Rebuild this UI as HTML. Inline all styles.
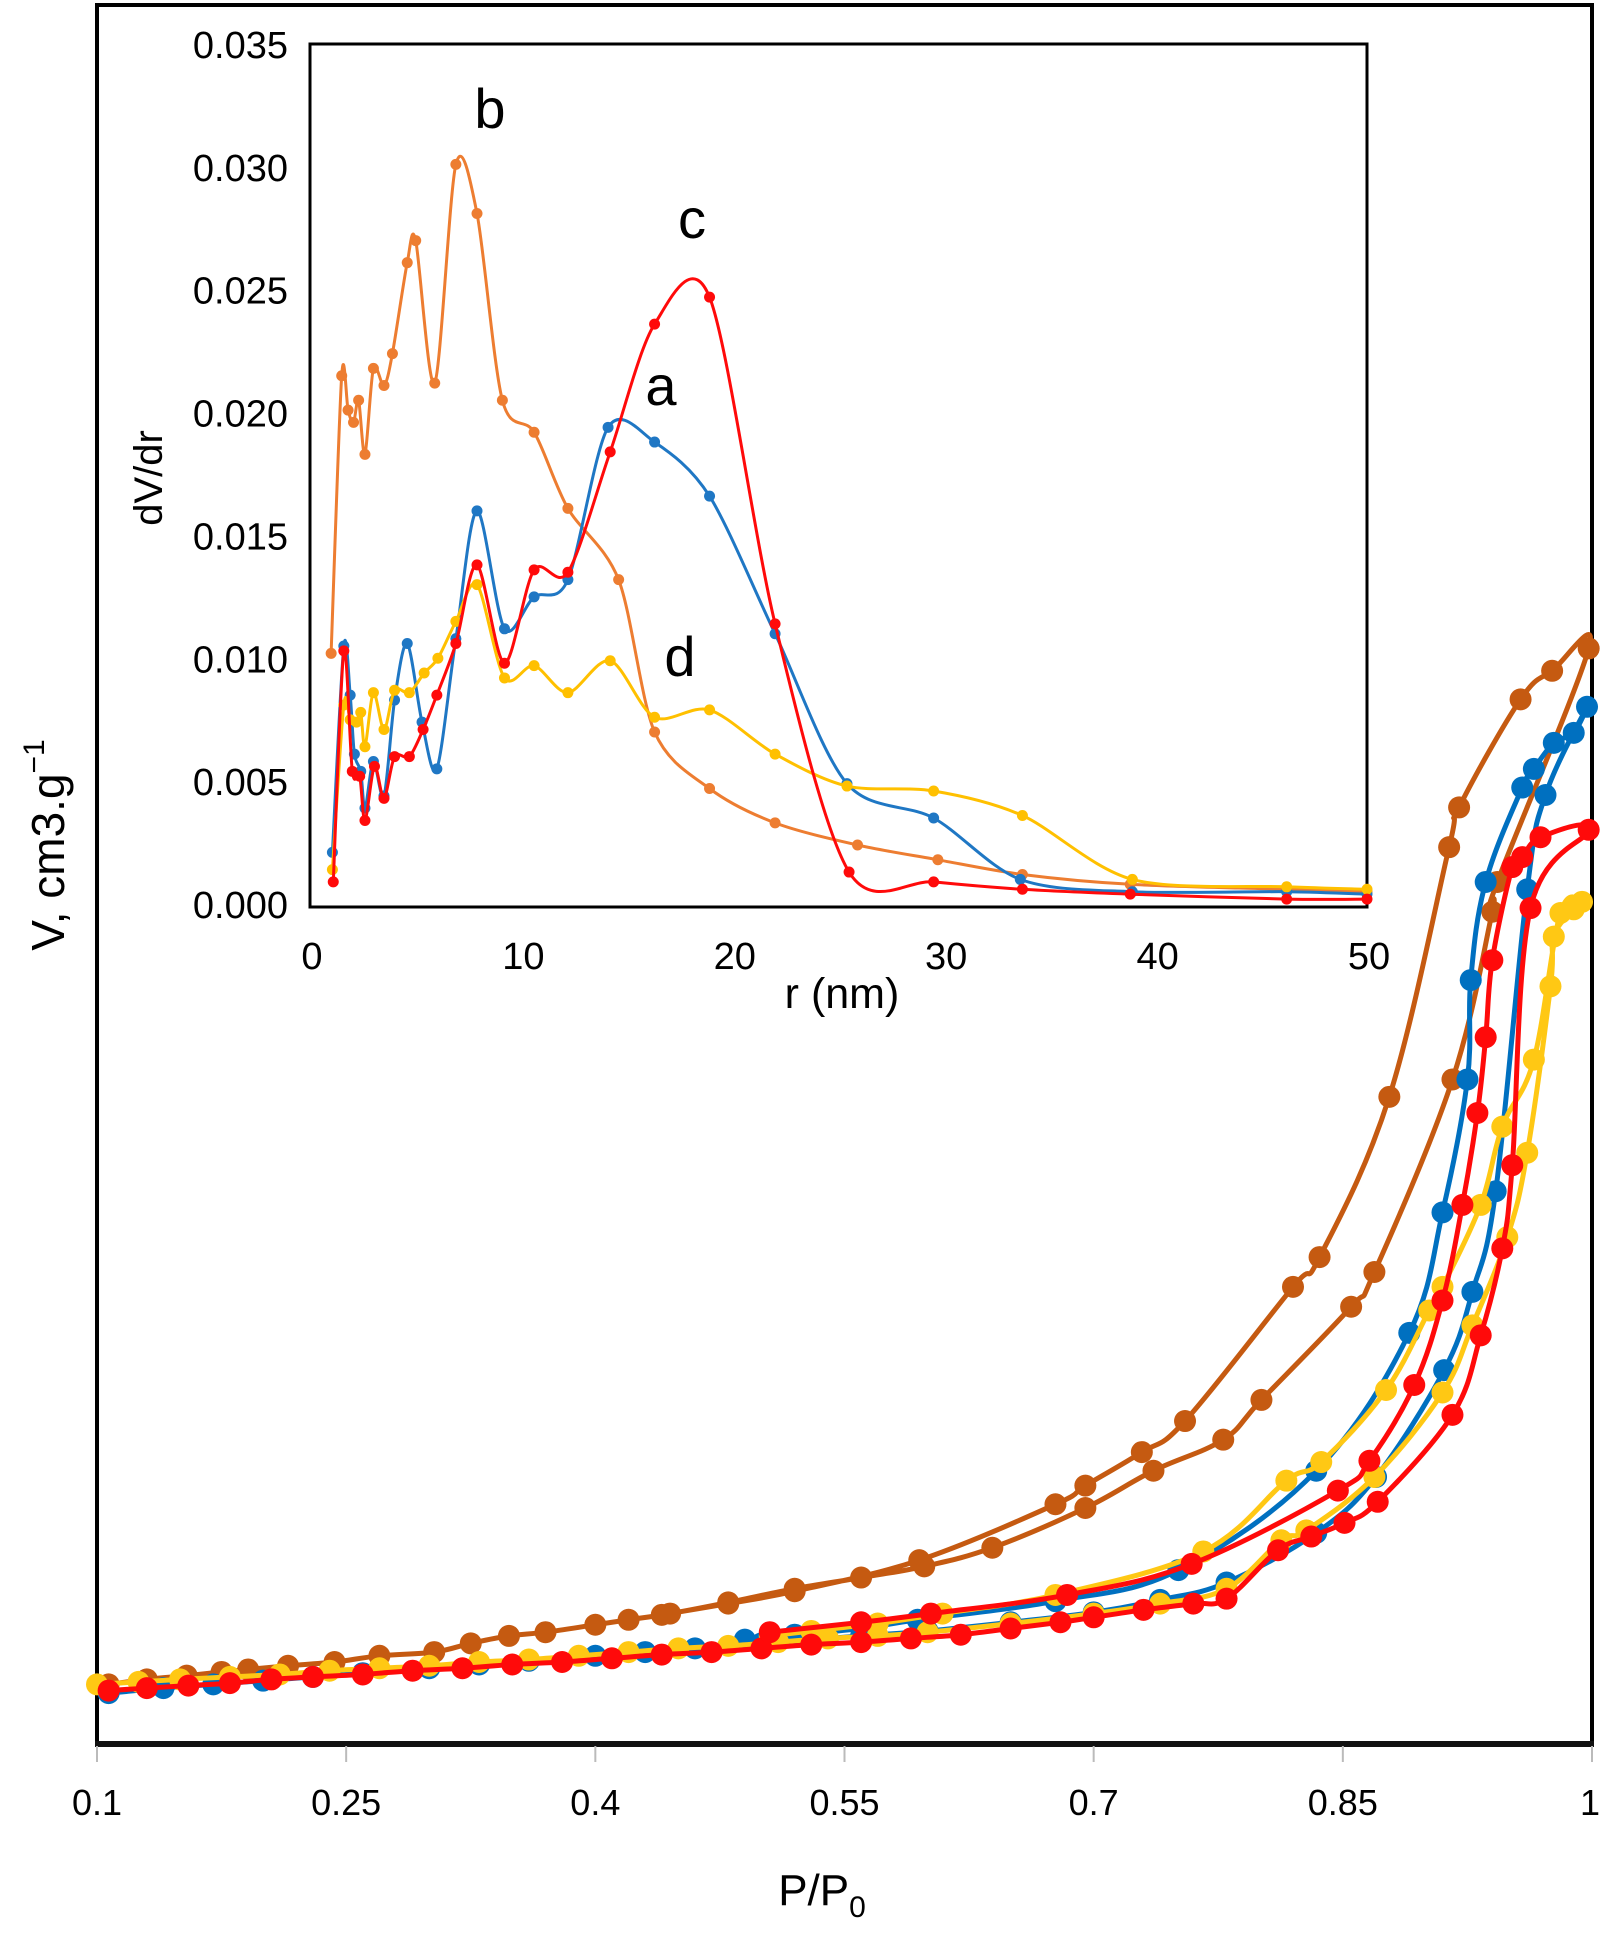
<!DOCTYPE html>
<html><head><meta charset="utf-8"><style>
html,body{margin:0;padding:0;background:#fff;}
svg{display:block;font-family:"Liberation Sans",Arial,sans-serif;}
</style></head><body>
<svg id="chart" width="1604" height="1949" viewBox="0 0 1604 1949" xmlns="http://www.w3.org/2000/svg">
<rect x="0" y="0" width="1604" height="1949" fill="#fff"/>
<g id="main"></g>
<g id="inset"></g>
</svg>
<script>
// ---------- main chart data (P/P0, V arbitrary units) ----------
const xTicks = [0.1, 0.25, 0.4, 0.55, 0.7, 0.85, 1];
const xTickLabels = ["0.1", "0.25", "0.4", "0.55", "0.7", "0.85", "1"];
const brownP = [0.107,0.13,0.154,0.175,0.191,0.215,0.243,0.27,0.303,0.325,0.348,0.37,0.400,0.42,0.445,0.48,0.520,0.56,0.598,0.639,0.695,0.736,0.778,0.801,0.855,0.869,0.916,0.940,0.943,0.998,0.976,0.957,0.920,0.914,0.878,0.836,0.820,0.755,0.729,0.695,0.677,0.595,0.520,0.48,0.44];
const brownV = [4.8,5.2,5.5,5.8,6.0,6.3,6.6,7.1,7.4,8.1,8.7,9.0,9.6,10.0,10.5,11.4,12.5,13.4,14.3,15.8,19.0,22.0,24.5,27.7,35.2,38.0,53.5,67.0,69.4,88.2,86.4,84.1,75.4,72.2,52.1,39.2,36.8,26.0,23.5,20.8,19.3,14.8,12.3,11.3,10.4];
const blueP = [0.107,0.14,0.17,0.2,0.23,0.26,0.3,0.33,0.36,0.4,0.43,0.46,0.5,0.53,0.56,0.6,0.65,0.7,0.74,0.78,0.834,0.87,0.911,0.928,0.942,0.961,0.972,0.997,0.989,0.977,0.965,0.958,0.936,0.927,0.925,0.910,0.890,0.834,0.751,0.677,0.594,0.56,0.52,0.49];
const blueV = [4.1,4.5,4.8,5.1,5.4,5.7,6.1,6.4,6.7,7.1,7.4,7.7,8.1,8.4,8.7,9.1,9.8,10.6,11.6,13.0,17.0,21.5,30.1,36.4,44.5,68.8,76.4,83.5,81.4,80.6,78.5,77.0,69.4,61.5,53.5,42.8,33.1,22.0,14.0,11.5,10.0,9.3,8.8,8.4];
const yellowP = [0.10,0.125,0.15,0.18,0.21,0.24,0.27,0.3,0.33,0.36,0.39,0.42,0.45,0.48,0.51,0.54,0.57,0.6,0.65,0.7,0.74,0.78,0.813,0.828,0.869,0.910,0.928,0.949,0.961,0.975,0.977,0.989,0.994,0.981,0.965,0.946,0.933,0.910,0.902,0.876,0.837,0.816,0.766,0.677,0.609,0.57,0.53,0.505];
const yellowV = [4.8,5.0,5.2,5.4,5.6,5.9,6.1,6.3,6.6,6.8,7.1,7.4,7.7,7.9,8.2,8.5,8.7,9.0,9.7,10.5,11.3,12.5,16.4,17.2,21.5,28.3,33.7,40.8,47.6,61.0,65.0,67.2,67.8,66.9,55.1,49.7,43.4,36.8,34.9,28.5,22.7,21.2,15.5,12.0,10.5,9.7,9.1,8.7];
const redP = [0.107,0.13,0.155,0.18,0.205,0.23,0.26,0.29,0.32,0.35,0.38,0.41,0.44,0.47,0.50,0.53,0.56,0.59,0.62,0.65,0.68,0.70,0.73,0.76,0.78,0.811,0.831,0.851,0.871,0.916,0.933,0.946,0.952,0.963,0.998,0.969,0.958,0.952,0.940,0.936,0.931,0.922,0.910,0.893,0.866,0.847,0.759,0.684,0.602,0.56,0.505];
const redV = [4.3,4.5,4.7,4.9,5.2,5.4,5.6,5.9,6.1,6.4,6.6,6.9,7.2,7.4,7.7,8.0,8.2,8.5,8.8,9.3,9.8,10.2,10.8,11.3,11.7,15.6,16.7,17.8,19.5,26.5,32.9,39.9,46.6,67.3,73.6,73.0,71.4,70.6,63.1,56.9,50.8,43.4,35.7,28.9,22.8,20.4,14.5,12.0,10.5,9.8,9.0];

// ---------- inset data (r nm, dV/dr) ----------
const rTicks = [0,10,20,30,40,50];
const dTicks = [0,0.005,0.010,0.015,0.020,0.025,0.030,0.035];
const dTickLabels = ["0.000","0.005","0.010","0.015","0.020","0.025","0.030","0.035"];
const bR = [1.0,1.5,1.8,2.06,2.3,2.6,3.0,3.5,3.9,4.6,5.0,5.9,6.9,7.9,9.1,10.6,12.2,14.6,16.3,18.9,22.0,25.9,29.7,33.7,38.8,46.2,50];
const bD = [.0102,.0215,.0201,.0196,.0205,.0183,.0218,.0211,.0224,.0261,.0270,.0212,.0301,.0281,.0205,.0192,.0161,.0132,.0070,.0047,.0033,.0024,.0018,.0012,.0008,.0006,.0005];
const aR = [1.06,1.6,1.9,2.1,2.4,2.6,3.0,3.5,4.0,4.6,5.3,6.0,6.9,7.9,9.2,10.6,12.2,14.1,16.3,18.9,22.0,25.4,29.5,33.6,38.9,46.2,50];
const aD = [.0021,.0105,.0085,.0061,.0054,.0039,.0058,.0044,.0083,.0106,.0074,.0055,.0108,.0160,.0112,.0125,.0132,.0194,.0188,.0166,.0110,.0049,.0035,.0010,.0005,.0005,.0004];
const cR = [1.1,1.6,2.0,2.35,2.6,3.05,3.5,4.0,4.7,5.35,6.0,6.9,7.9,9.2,10.6,12.2,14.2,16.3,18.9,22.0,25.5,29.5,33.7,38.8,46.2,50];
const cD = [.0009,.0103,.0054,.0052,.0034,.0056,.0043,.0060,.0060,.0071,.0085,.0106,.0138,.0098,.0136,.0135,.0184,.0236,.0247,.0114,.0013,.0009,.0006,.0004,.0002,.0002];
const dR = [1.06,1.6,1.9,2.2,2.4,2.6,3.0,3.5,4.0,4.7,5.4,6.05,6.9,7.9,9.2,10.6,12.2,14.2,16.3,18.9,22.0,25.4,29.5,33.7,38.9,46.2,50];
const dD = [.0014,.0081,.0075,.0074,.0078,.0064,.0086,.0071,.0087,.0086,.0094,.0100,.0115,.0130,.0092,.0097,.0086,.0099,.0076,.0079,.0061,.0048,.0046,.0036,.0010,.0007,.0006];

const NS = "http://www.w3.org/2000/svg";
function mk(parent, tag, attrs){const e=document.createElementNS(NS,tag);for(const k in attrs)e.setAttribute(k,attrs[k]);parent.appendChild(e);return e;}
function smooth(pts,t){
  if(pts.length<2)return "";
  let d="M"+pts[0][0].toFixed(1)+","+pts[0][1].toFixed(1);
  for(let i=0;i<pts.length-1;i++){
    const p0=pts[i-1]||pts[i],p1=pts[i],p2=pts[i+1],p3=pts[i+2]||p2;
    const c1=[p1[0]+(p2[0]-p0[0])*t,p1[1]+(p2[1]-p0[1])*t];
    const c2=[p2[0]-(p3[0]-p1[0])*t,p2[1]-(p3[1]-p1[1])*t];
    d+=" C"+c1[0].toFixed(1)+","+c1[1].toFixed(1)+" "+c2[0].toFixed(1)+","+c2[1].toFixed(1)+" "+p2[0].toFixed(1)+","+p2[1].toFixed(1);
  }
  return d;
}

// ---------- main ----------
const main=document.getElementById('main');
const MX0=97,MX1=1592,MY0=1744,MY1=5;
const px=p=>MX0+(p-0.1)/0.9*(MX1-MX0);
const py=v=>MY0-v/140*(MY0-MY1);
let e;
e=mk(main,'rect',{x:97,y:5,width:1495,height:1739,fill:'none',stroke:'#000','stroke-width':4});


e=mk(main,'line',{x1:95,y1:1744,x2:1594,y2:1744,stroke:'#111','stroke-width':6});


xTicks.forEach((t,i)=>{
  const x=px(t);
  const tk=mk(main,'line',{x1:x,y1:1746,x2:x,y2:1762,stroke:'#bbb','stroke-width':2});
  
  
  const lb=mk(main,'text',{x:i===6?x-2:x,y:1815,'font-size':36,'text-anchor':'middle',fill:'#000'});
  lb.textContent=xTickLabels[i];
  
  
});
e=mk(main,'text',{x:822,y:1905,'font-size':44,'text-anchor':'middle',fill:'#000'});
e.innerHTML='P/P<tspan font-size="30" dy="12">0</tspan>';


e=mk(main,'text',{x:0,y:0,'font-size':46,'text-anchor':'middle',fill:'#000',transform:'translate(64,845) rotate(-90)'});
e.innerHTML='V, cm3.g<tspan font-size="30" dy="-20">−1</tspan>';



const mainSeries=[[brownP,brownV,'#C55A11','series-b-isotherm'],[blueP,blueV,'#0070C0','series-a-isotherm'],[yellowP,yellowV,'#FFC814','series-d-isotherm'],[redP,redV,'#FF0A0A','series-c-isotherm']];
mainSeries.forEach(s=>{
  const g=mk(main,'g',{});
  
  
  const pts=s[0].map((p,i)=>[px(p),py(s[1][i])]);
  const path=mk(g,'path',{d:smooth(pts,0.18),fill:'none',stroke:s[2],'stroke-width':5,'stroke-linejoin':'round'});
  
  
  pts.forEach(p=>{
    const c=mk(g,'circle',{cx:p[0],cy:p[1],r:11,fill:s[2]});
    
    
  });
});

// ---------- inset ----------
const ins=document.getElementById('inset');
const IX0=310,IX1=1367,IY0=904,IY1=44;
const ix=r=>IX0+r/50*(IX1-IX0);
const iy=d=>IY0-d/0.035*(IY0-IY1);
e=mk(ins,'rect',{x:310,y:44,width:1057,height:863,fill:'#fff',stroke:'#000','stroke-width':3});


dTicks.forEach((t,i)=>{
  const lb=mk(ins,'text',{x:288,y:iy(t)+14,'font-size':38,'text-anchor':'end',fill:'#000'});
  lb.textContent=dTickLabels[i];
  
  
});
rTicks.forEach(t=>{
  const lb=mk(ins,'text',{x:ix(t)+2,y:969,'font-size':38,'text-anchor':'middle',fill:'#000'});
  lb.textContent=String(t);
  
  
});
e=mk(ins,'text',{x:842,y:1008,'font-size':43,'text-anchor':'middle',fill:'#000'});
e.textContent='r (nm)';


e=mk(ins,'text',{x:0,y:0,'font-size':40,'text-anchor':'middle',fill:'#000',transform:'translate(162,478) rotate(-90)'});
e.textContent='dV/dr';



const insSeries=[[bR,bD,'#ED7D31','inset-series-b'],[aR,aD,'#1F77C4','inset-series-a'],[dR,dD,'#FFC000','inset-series-d'],[cR,cD,'#FF0A0A','inset-series-c']];
insSeries.forEach(s=>{
  const g=mk(ins,'g',{});
  
  
  const pts=s[0].map((r,i)=>[ix(r),iy(s[1][i])]);
  const path=mk(g,'path',{d:smooth(pts,0.15),fill:'none',stroke:s[2],'stroke-width':3,'stroke-linejoin':'round'});
  
  
  pts.forEach(p=>{
    const c=mk(g,'circle',{cx:p[0],cy:p[1],r:5.5,fill:s[2]});
    
    
  });
});
const labels=[['b',490,128],['c',692,238],['a',661,405],['d',680,676]];
labels.forEach(l=>{
  const t=mk(ins,'text',{x:l[1],y:l[2],'font-size':56,'text-anchor':'middle',fill:'#000'});
  t.textContent=l[0];
  
  
});
</script>
</body></html>
